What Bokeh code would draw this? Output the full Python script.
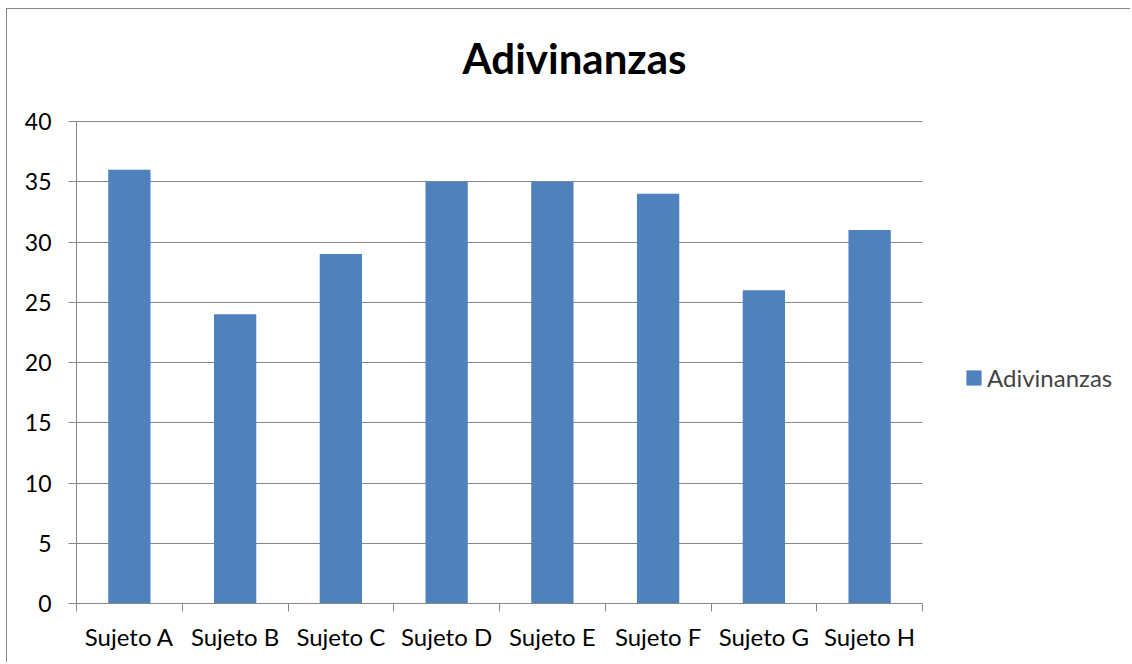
from bokeh.plotting import figure
from bokeh.models import (FixedTicker, Range1d, Legend, LegendItem, Label)
from bokeh.embed import file_html
from bokeh.resources import INLINE

categories = ["Sujeto A", "Sujeto B", "Sujeto C", "Sujeto D",
              "Sujeto E", "Sujeto F", "Sujeto G", "Sujeto H"]
adivinanzas = [36, 24, 29, 35, 35, 34, 26, 31]
y_ticks = [0, 5, 10, 15, 20, 25, 30, 35, 40]
series_name = "Adivinanzas"
title_text = "Adivinanzas"

FONT = "Lato"
GRAY = "#868686"
BAR = "#4F81BD"

W, H = 1124, 654
LEFT, BOTTOM = 69, 60
PLOT_W, PLOT_H = 846, 482          # pixel size of the category / value area
FRAME_W = W - LEFT                  # frame extends to the right edge (legend lives there)
FRAME_H = H - BOTTOM                # frame extends to the top edge (title lives there)
n = len(categories)
y_max = y_ticks[-1]
x_end = n * FRAME_W / PLOT_W
y_end = y_max * FRAME_H / PLOT_H

p = figure(width=W, height=H, output_backend="svg", toolbar_location=None,
           x_range=Range1d(0, x_end), y_range=Range1d(0, y_end),
           min_border_left=LEFT, min_border_right=0,
           min_border_top=0, min_border_bottom=BOTTOM)
p.styles = {"border-left": f"1px solid {GRAY}", "border-top": f"1px solid {GRAY}",
            "margin-left": "6px", "margin-top": "8px"}
p.outline_line_color = None
p.title.visible = False

xc = [i + 0.5 for i in range(n)]
r = p.vbar(x=xc, top=adivinanzas, width=0.4, color=BAR, line_color=None)

# x axis: labels at centers, tick marks at boundaries (minor ticks)
p.xaxis.ticker = FixedTicker(ticks=xc, minor_ticks=list(range(n + 1)))
p.xaxis.bounds = (0, n)
p.xaxis.major_label_overrides = {x: c for x, c in zip(xc, categories)}
p.xaxis.major_tick_out = 0
p.xaxis.major_tick_in = 0
p.xaxis.minor_tick_out = 8
p.xaxis.minor_tick_in = 0
p.xaxis.minor_tick_line_color = GRAY
p.xaxis.axis_line_color = GRAY
p.xaxis.major_label_text_font = FONT
p.xaxis.major_label_text_font_size = "24px"
p.xaxis.major_label_text_color = "black"
p.xaxis.major_label_standoff = 10
p.xgrid.visible = False

p.yaxis.ticker = FixedTicker(ticks=y_ticks)
p.yaxis.bounds = (0, y_max)
p.yaxis.major_tick_out = 8
p.yaxis.major_tick_in = 0
p.yaxis.minor_tick_line_color = None
p.yaxis.major_tick_line_color = GRAY
p.yaxis.axis_line_color = GRAY
p.yaxis.major_label_text_font = FONT
p.yaxis.major_label_text_font_size = "23px"
p.yaxis.major_label_text_color = "black"
p.yaxis.major_label_standoff = 17

# horizontal grid lines limited to the category span
ygrid = p.ygrid[0]
if "cross_bounds" in ygrid.properties():
    ygrid.ticker = FixedTicker(ticks=y_ticks)
    ygrid.grid_line_color = GRAY
    ygrid.cross_bounds = (0, n)
else:
    ygrid.visible = False
    p.segment(x0=[0] * len(y_ticks), x1=[n] * len(y_ticks), y0=y_ticks, y1=y_ticks,
              line_color=GRAY, line_width=1, level="underlay")

legend = Legend(items=[LegendItem(label=series_name, renderers=[r])],
                location=(888, 211), glyph_width=19, glyph_height=19,
                label_standoff=4, padding=0, margin=0,
                border_line_color=None, background_fill_alpha=0,
                label_text_font=FONT, label_text_font_size="24px")
p.add_layout(legend, "center")

title = Label(x=498, y=546, x_units="screen", y_units="screen",
              text=title_text, text_align="center", text_baseline="alphabetic",
              text_font=FONT, text_font_style="bold",
              text_font_size="42px", text_color="black")
p.add_layout(title)

open("out.html", "w").write(file_html(p, INLINE))
